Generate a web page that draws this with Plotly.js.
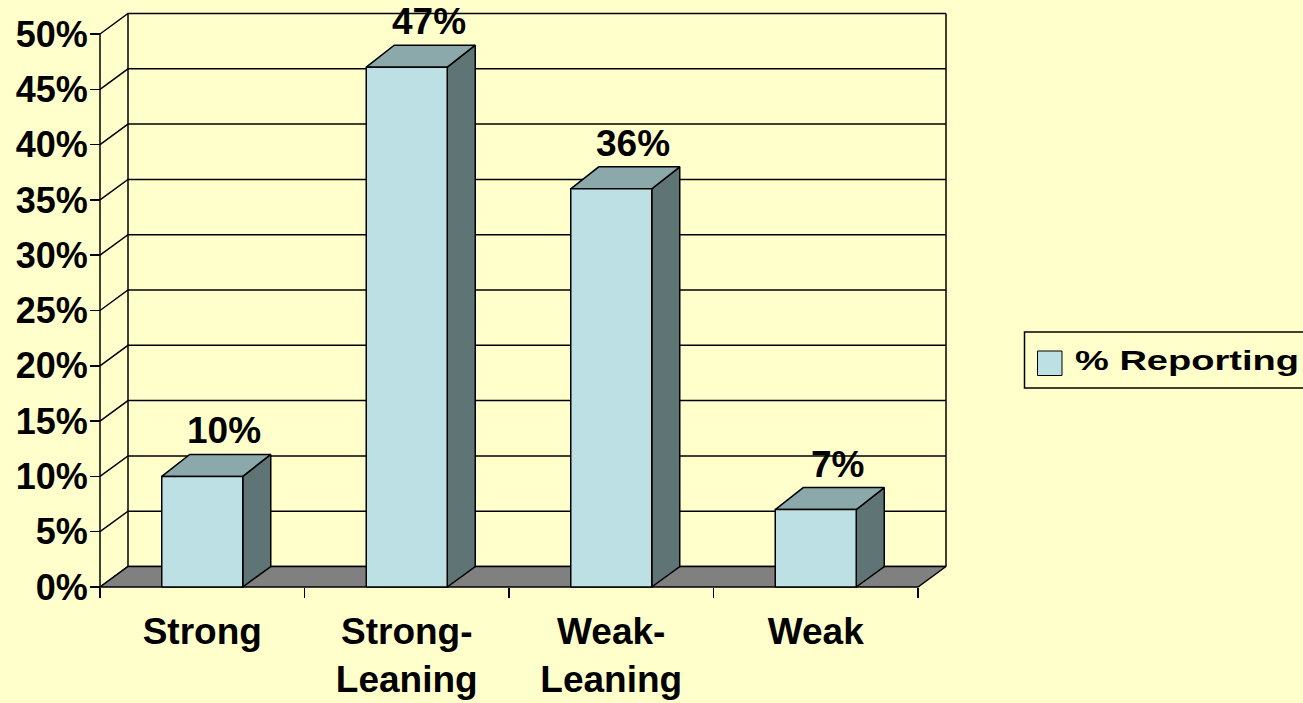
<!DOCTYPE html>
<html>
<head>
<meta charset="utf-8">
<script src="https://cdn.plot.ly/plotly-3.0.1.min.js"></script>
<style>html,body{margin:0;padding:0;background:#FFFFCC;overflow:hidden;}</style>
</head>
<body>
<div id="chart" style="width:1303px;height:703px;"></div>
<script>
// ---------------- data ----------------
const categories = ["Strong", "Strong-<br>Leaning", "Weak-<br>Leaning", "Weak"];
const values = [10, 47, 36, 7];
const valueLabels = ["10%", "47%", "36%", "7%"];
const seriesName = "% Reporting";
const yTickValues = [0, 5, 10, 15, 20, 25, 30, 35, 40, 45, 50];
const yTickLabels = ["0%", "5%", "10%", "15%", "20%", "25%", "30%", "35%", "40%", "45%", "50%"];
const yMaxValue = 50;

// ---------------- geometry (pixels) ----------------
const FIRST_BOUNDARY_PX = 100, CAT_PX = 204.5, ZERO_PX = 587, PCT_PX = 11.06;
const PLOT_L = 98, PLOT_R = 948, PLOT_T = 11, PLOT_B = 589;
const DEPTH_X_PX = 28, DEPTH_Y_WALL_PX = 20.5, DEPTH_Y_TOP_PX = 22, BAR_W_PX = 81;
const LABEL_DX_PX = 22, LABEL_DY_PX = 23.5;

// ---------------- styles ----------------
const BG = "#FFFFCC", FRONT = "#BCE0E4", TOP = "#8BA8AB", SIDE = "#5F7475", FLOOR = "#808080";
const LINE = "#000000", LW = 1.5;
const FONT = {family: "Liberation Sans, Arial, sans-serif", size: 37, color: "#000", weight: "bold"};

// derived units
const n = categories.length;
const pxX = px => (px - FIRST_BOUNDARY_PX) / CAT_PX - 0.5;
const pxY = py => (ZERO_PX - py) / PCT_PX;
const xRange = [pxX(PLOT_L), pxX(PLOT_R)];
const yRange = [pxY(PLOT_B), pxY(PLOT_T)];
const dx = DEPTH_X_PX / CAT_PX;
const dyW = DEPTH_Y_WALL_PX / PCT_PX;
const dyT = DEPTH_Y_TOP_PX / PCT_PX;
const hw = BAR_W_PX / CAT_PX / 2;
const xL = -0.5, xR = n - 0.5;
const PW = PLOT_R - PLOT_L, PH = PLOT_B - PLOT_T;
const xp = px => (px - PLOT_L) / PW;
const yp = py => (PLOT_B - py) / PH;

function lineTrace(xs, ys, extra) {
  return Object.assign({type: "scatter", mode: "lines", x: xs, y: ys,
    line: {color: LINE, width: LW}, hoverinfo: "skip", showlegend: false}, extra || {});
}

// gridlines on side + back wall
const gx = [], gy = [];
yTickValues.forEach(k => {
  gx.push(xL, xL + dx, xR + dx, null);
  gy.push(k, k + dyW, k + dyW, null);
});
// wall edges
const wx = [xL + dx, xL + dx, null, xR + dx, xR + dx];
const wy = [dyW, yMaxValue + dyW, null, dyW, yMaxValue + dyW];
// y axis line
const ax = [xL, xL], ay = [0, yMaxValue];
// floor
const fx = [xL, xR, xR + dx, xL + dx, xL];
const fy = [0, 0, dyW, dyW, 0];

// bars
const sx = [], sy = [], tx = [], ty = [], frx = [], fry = [];
values.forEach((v, i) => {
  const a = i - hw, b = i + hw;
  sx.push(b, b + dx, b + dx, b, b, null);
  sy.push(0, dyW, v + dyT, v, 0, null);
  tx.push(a, b, b + dx, a + dx, a, null);
  ty.push(v, v, v + dyT, v + dyT, v, null);
  frx.push(a, b, b, a, a, null);
  fry.push(0, 0, v, v, 0, null);
});

const data = [
  lineTrace(gx, gy),
  lineTrace(wx, wy),
  lineTrace(ax, ay),
  lineTrace(fx, fy, {fill: "toself", fillcolor: FLOOR}),
  lineTrace(sx, sy, {fill: "toself", fillcolor: SIDE}),
  lineTrace(tx, ty, {fill: "toself", fillcolor: TOP}),
  lineTrace(frx, fry, {fill: "toself", fillcolor: FRONT, name: seriesName}),
  {type: "scatter", x: [], y: [], xaxis: "x2", yaxis: "y", showlegend: false, hoverinfo: "skip"}
];

const annotations = values.map((v, i) => ({
  x: i + LABEL_DX_PX / CAT_PX, y: v + dyT, xref: "x", yref: "y",
  text: valueLabels[i], showarrow: false, xanchor: "center", yanchor: "middle",
  yshift: LABEL_DY_PX, font: FONT
}));
// manual legend text
annotations.push({
  x: xp(1073), y: yp(361), xref: "paper", yref: "paper", text: seriesName,
  showarrow: false, xanchor: "left", yanchor: "middle",
  font: Object.assign({}, FONT, {size: 27})
});
const LEGEND_TEXT_INDEX = annotations.length - 1;
const LEGEND_TEXT_WIDTH_PX = 224;

const shapes = [
  {type: "rect", xref: "paper", yref: "paper", x0: xp(1024.5), x1: xp(1320), y0: yp(388), y1: yp(332),
   line: {color: LINE, width: LW}, fillcolor: BG},
  {type: "rect", xref: "paper", yref: "paper", x0: xp(1037.5), x1: xp(1062), y0: yp(375.5), y1: yp(351),
   line: {color: LINE, width: 1}, fillcolor: FRONT}
];

const layout = {
  width: 1303, height: 703,
  paper_bgcolor: BG, plot_bgcolor: "rgba(0,0,0,0)",
  margin: {l: PLOT_L, r: 1303 - PLOT_R, t: PLOT_T, b: 703 - PLOT_B, pad: 0},
  showlegend: false,
  xaxis: {range: xRange, anchor: "free", position: yp(ZERO_PX),
    tickvals: categories.map((c, i) => i), ticktext: categories, ticks: "",
    showgrid: false, zeroline: false, showline: false, tickfont: FONT, ticklabelstandoff: 19},
  xaxis2: {range: xRange, overlaying: "x", anchor: "free", position: yp(ZERO_PX),
    tickvals: [...categories.map((c, i) => i - 0.5), n - 0.5], ticks: "outside", ticklen: 10,
    tickwidth: LW, tickcolor: LINE, showticklabels: false, showgrid: false, zeroline: false, showline: false},
  yaxis: {range: yRange, anchor: "free", position: xp(FIRST_BOUNDARY_PX),
    tickvals: yTickValues, ticktext: yTickLabels, ticks: "outside", ticklen: 10, tickwidth: LW, tickcolor: LINE,
    showgrid: false, zeroline: false, showline: false, ticklabelstandoff: -5,
    tickfont: Object.assign({}, FONT, {size: 36})},
  annotations: annotations,
  shapes: shapes
};

Plotly.newPlot("chart", data, layout, {displayModeBar: false, staticPlot: true}).then(() => {
  const g = document.querySelector('.annotation[data-index="' + LEGEND_TEXT_INDEX + '"] text');
  if (g) {
    const bb = g.getBBox();
    const s = LEGEND_TEXT_WIDTH_PX / bb.width;
    g.setAttribute("transform", "translate(" + bb.x + ",0) scale(" + s + ",1) translate(" + (-bb.x) + ",0)");
  }
});
</script>
</body>
</html>
